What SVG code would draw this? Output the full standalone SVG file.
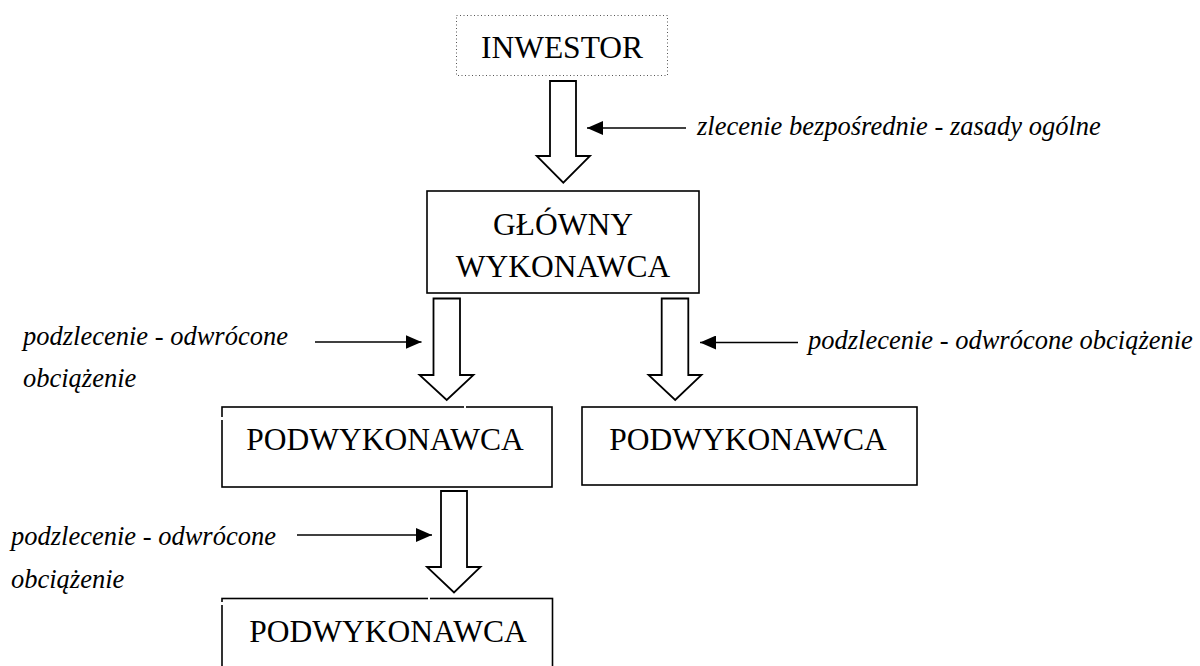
<svg xmlns="http://www.w3.org/2000/svg" width="1200" height="666" viewBox="0 0 1200 666">
<style>
.box{fill:#fff;stroke:#000;stroke-width:1.6}
.dot{fill:#fff;stroke:#555;stroke-width:1;stroke-dasharray:1 2.5}
.t{font-family:"Liberation Serif","Times New Roman",serif;font-size:31.5px;fill:#000;text-anchor:middle}
.i{font-family:"Liberation Serif","Times New Roman",serif;font-size:26.5px;font-style:italic;fill:#000}
.blk{fill:#fff;stroke:#000;stroke-width:1.8;stroke-linejoin:miter}
.ptr{stroke:#000;stroke-width:1.6;fill:none}
.gap{fill:#fff}
</style>
<defs>
<marker id="ah" viewBox="0 0 16 14" refX="16" refY="7" markerWidth="16" markerHeight="14" markerUnits="userSpaceOnUse" orient="auto">
<path d="M0,0 L16,7 L0,14 Z" fill="#000"/>
</marker>
</defs>
<rect width="1200" height="666" fill="#fff"/>

<g id="inwestor">
<rect class="dot" x="456.5" y="15.5" width="211" height="60"/>
<text class="t" x="562" y="58">INWESTOR</text>
</g>

<g id="glowny">
<rect class="box" x="427" y="191" width="272" height="102"/>
<text class="t" x="563" y="235">GŁÓWNY</text>
<text class="t" x="563" y="277">WYKONAWCA</text>
</g>

<g id="podwykonawca1">
<rect class="box" x="222" y="407" width="330" height="80"/>
<rect class="gap" x="464" y="405" width="2" height="4"/>
<rect class="gap" x="220" y="417" width="4" height="3"/>
<text class="t" x="385" y="449.5">PODWYKONAWCA</text>
</g>

<g id="podwykonawca2">
<rect class="box" x="582" y="407" width="335" height="78"/>
<text class="t" x="748" y="450">PODWYKONAWCA</text>
</g>

<g id="podwykonawca3">
<rect class="box" x="222" y="598.5" width="330.5" height="80"/>
<rect class="gap" x="428" y="597" width="2" height="4"/>
<rect class="gap" x="220" y="602" width="4" height="3"/>
<text class="t" x="388" y="641.5">PODWYKONAWCA</text>
</g>

<g id="connectors">
<polygon class="blk" points="550,81 576,81 576,156 590,156 563.3,182.7 536.7,156 550,156"/>
<polygon class="blk" points="433.5,298.5 460,298.5 460,375 473.5,375 446.7,400 419.5,375 433.5,375"/>
<polygon class="blk" points="661.7,298.5 688.3,298.5 688.3,375 701.5,375 675.2,400 648.5,375 661.7,375"/>
<polygon class="blk" points="441,491 467,491 467,567 480.5,567 454,592.5 427,567 441,567"/>

<line class="ptr" x1="686" y1="128" x2="587" y2="128" marker-end="url(#ah)"/>
<line class="ptr" x1="315" y1="342" x2="421.5" y2="342" marker-end="url(#ah)"/>
<line class="ptr" x1="798" y1="342.5" x2="700" y2="342.5" marker-end="url(#ah)"/>
<line class="ptr" x1="297" y1="535" x2="432" y2="535" marker-end="url(#ah)"/>
</g>

<g id="labels">
<text class="i" x="697" y="135">zlecenie bezpośrednie - zasady ogólne</text>
<text class="i" x="23" y="345">podzlecenie - odwrócone</text>
<text class="i" x="23" y="387">obciążenie</text>
<text class="i" x="808" y="349">podzlecenie - odwrócone obciążenie</text>
<text class="i" x="11" y="545">podzlecenie - odwrócone</text>
<text class="i" x="11" y="588">obciążenie</text>
</g>
</svg>
